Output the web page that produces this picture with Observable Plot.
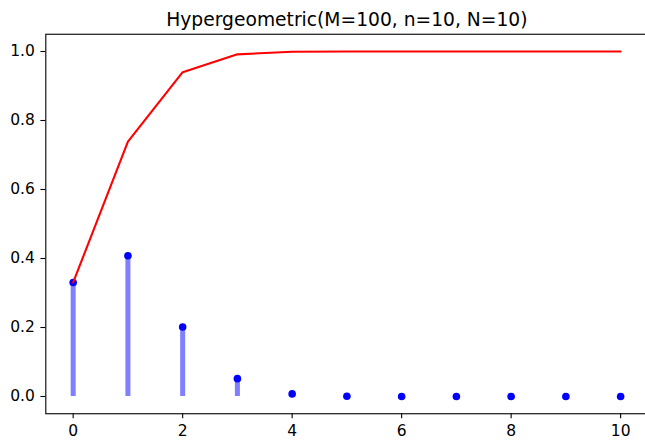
<!DOCTYPE html>
<html>
<head>
<meta charset="utf-8">
<script src="https://cdn.jsdelivr.net/npm/d3@7"></script>
<script src="https://cdn.jsdelivr.net/npm/@observablehq/plot@0.6"></script>
<style>
  html, body { margin: 0; padding: 0; background: white; overflow: hidden; }
  svg { font-family: "DejaVu Sans", sans-serif; color: black; }
</style>
</head>
<body>
<div id="chart"></div>
<script>
const titleText = "Hypergeometric(M=100, n=10, N=10)";
const k = [0, 1, 2, 3, 4, 5, 6, 7, 8, 9, 10];
const pmf = [0.3305, 0.4080, 0.2015, 0.0518, 0.00755, 0.00064, 0.000031, 0.0000008, 0, 0, 0];
const cdf = [0.3305, 0.7385, 0.9400, 0.9918, 0.9994, 1.0, 1.0, 1.0, 1.0, 1.0, 1.0];
const xTicks = [0, 2, 4, 6, 8, 10];
const yTicks = [0.0, 0.2, 0.4, 0.6, 0.8, 1.0];

const xDomain = [-0.5, 10.5];
const yDomain = [-0.05, 1.05];

const rows = k.map((v, i) => ({k: v, pmf: pmf[i], cdf: cdf[i]}));

const W = 645, H = 441;
const axLeft = 45.3, axRight = 647.5, axTop = 33.75, axBottom = 413.25;

const chart = Plot.plot({
  width: W,
  height: H,
  marginLeft: axLeft,
  marginRight: W - axRight,
  marginTop: axTop,
  marginBottom: H - axBottom,
  style: {fontFamily: "DejaVu Sans, sans-serif", color: "black", background: "white", overflow: "hidden"},
  x: {domain: xDomain, range: [axLeft, axRight]},
  y: {domain: yDomain, range: [axBottom, axTop]},
  marks: [
    Plot.ruleX(rows, {x: "k", y1: 0, y2: "pmf", stroke: "blue", strokeOpacity: 0.5, strokeWidth: 5, strokeLinecap: "butt"}),
    Plot.dot(rows, {x: "k", y: "pmf", r: 3.8, fill: "blue", stroke: "none"}),
    Plot.line(rows, {x: "k", y: "cdf", stroke: "red", strokeWidth: 2.1}),
    Plot.frame({stroke: "black", strokeWidth: 1.1}),
    Plot.axisX({ticks: xTicks, tickFormat: d => String(d), tickSize: 4.9, tickPadding: 6.5, fontSize: 15.5, label: null, stroke: "black", strokeWidth: 1.1}),
    Plot.axisY({ticks: yTicks, tickFormat: d3.format(".1f"), tickSize: 4.9, tickPadding: 6, fontSize: 15.5, label: null, stroke: "black", strokeWidth: 1.1}),
    Plot.text([titleText], {
      x: (xDomain[0] + xDomain[1]) / 2,
      y: yDomain[1],
      text: d => d,
      dy: -8.75,
      lineAnchor: "bottom",
      textAnchor: "middle",
      fontSize: 18.7,
      fill: "black"
    })
  ]
});
document.getElementById("chart").appendChild(chart);
</script>
</body>
</html>
